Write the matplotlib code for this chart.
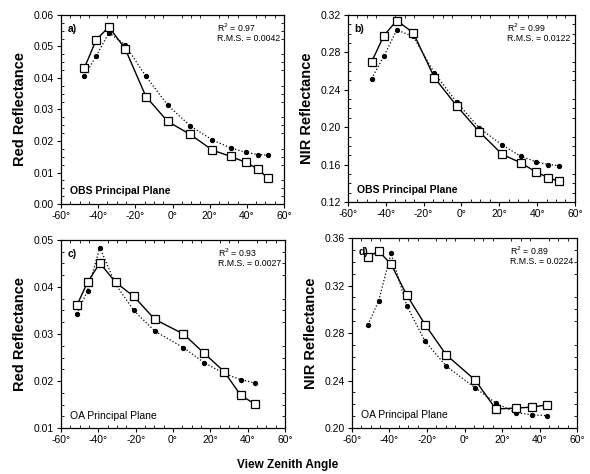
import matplotlib
matplotlib.use("Agg")
import matplotlib.pyplot as plt
import matplotlib.ticker as ticker

plt.rcParams['font.family'] = ['Liberation Sans', 'DejaVu Sans']
plt.rcParams['axes.unicode_minus'] = False

# view zenith angles (deg)
vza_obs = [-47.5, -41, -34.2, -25.5, -14.3, -2.6, 9.5, 21.5, 31.3, 39.5, 46, 51.5]
vza_oa = [-51.5, -45.8, -39.2, -30.8, -21, -9.7, 5.6, 16.7, 27.4, 36.2, 43.8]

# a) OBS red
red_obs_meas = [0.0431, 0.0522, 0.0562, 0.0493, 0.0341, 0.0262, 0.0221, 0.0171, 0.0151, 0.0132, 0.0111, 0.0081]
red_obs_mod = [0.0407, 0.0470, 0.0544, 0.0505, 0.0405, 0.0314, 0.0248, 0.0203, 0.0178, 0.0164, 0.0157, 0.0155]
# b) OBS NIR
nir_obs_meas = [0.270, 0.298, 0.314, 0.301, 0.253, 0.223, 0.195, 0.171, 0.162, 0.152, 0.146, 0.142]
nir_obs_mod = [0.252, 0.276, 0.304, 0.297, 0.258, 0.227, 0.199, 0.181, 0.169, 0.163, 0.160, 0.159]
# c) OA red
red_oa_meas = [0.0361, 0.0410, 0.0451, 0.0410, 0.0380, 0.0331, 0.0300, 0.0259, 0.0220, 0.0170, 0.0151]
red_oa_mod = [0.0343, 0.0392, 0.0484, 0.0406, 0.0350, 0.0306, 0.0271, 0.0239, 0.0216, 0.0203, 0.0196]
# d) OA NIR
nir_oa_meas = [0.344, 0.349, 0.338, 0.312, 0.287, 0.2615, 0.2405, 0.216, 0.2168, 0.2176, 0.2195]
nir_oa_mod = [0.287, 0.307, 0.347, 0.303, 0.273, 0.252, 0.234, 0.221, 0.213, 0.211, 0.2105]

panels = [
    dict(pos=[0.1034, 0.5696, 0.378, 0.3988], x=vza_obs, meas=red_obs_meas, mod=red_obs_mod,
         ylim=(0.0, 0.06), step=0.01, ylabel='Red Reflectance', tag='a)',
         r2='0.97', rms='0.0042', plane='OBS Principal Plane', bold=True),
    dict(pos=[0.5898, 0.5738, 0.3847, 0.3946], x=vza_obs, meas=nir_obs_meas, mod=nir_obs_mod,
         ylim=(0.12, 0.32), step=0.04, ylabel='NIR Reflectance', tag='b)',
         r2='0.99', rms='0.0122', plane='OBS Principal Plane', bold=True),
    dict(pos=[0.1034, 0.0970, 0.3797, 0.3967], x=vza_oa, meas=red_oa_meas, mod=red_oa_mod,
         ylim=(0.01, 0.05), step=0.01, ylabel='Red Reflectance', tag='c)',
         r2='0.93', rms='0.0027', plane='OA Principal Plane', bold=False),
    dict(pos=[0.5966, 0.0970, 0.3814, 0.4009], x=vza_oa, meas=nir_oa_meas, mod=nir_oa_mod,
         ylim=(0.20, 0.36), step=0.04, ylabel='NIR Reflectance', tag='d)',
         r2='0.89', rms='0.0224', plane='OA Principal Plane', bold=False),
]

fig = plt.figure(figsize=(5.9, 4.74), dpi=100)

for p in panels:
    ax = fig.add_axes(p['pos'])
    ax.plot(p['x'], p['mod'], ':', color='black', lw=0.9, marker='o', ms=2.8, mfc='black', mec='black')
    ax.plot(p['x'], p['meas'], '-', color='black', lw=1.0, marker='s', ms=5.5, mfc='white', mec='black', mew=0.9)

    ax.set_xlim(-60, 60)
    ax.set_ylim(*p['ylim'])
    ax.xaxis.set_major_locator(ticker.MultipleLocator(20))
    ax.xaxis.set_minor_locator(ticker.MultipleLocator(5))
    ax.yaxis.set_major_locator(ticker.MultipleLocator(p['step']))
    ax.yaxis.set_minor_locator(ticker.MultipleLocator(p['step'] / 4))
    ax.xaxis.set_major_formatter(ticker.FuncFormatter(lambda v, pos: f"{int(round(v))}°"))
    nd = 2
    ax.yaxis.set_major_formatter(ticker.FuncFormatter(lambda v, pos, nd=nd: f"{v:.{nd}f}"))
    ax.tick_params(which='major', direction='out', length=3, width=0.8, labelsize=7.5, pad=2)
    ax.tick_params(which='minor', direction='in', length=2, width=0.6, top=True, right=True)
    ax.tick_params(which='major', top=False, right=False)
    for s in ax.spines.values():
        s.set_linewidth(0.9)

    ax.set_ylabel(p['ylabel'], fontsize=10.5, fontweight='bold', labelpad=5)

    ax.text(0.03, 0.95, p['tag'], transform=ax.transAxes, fontsize=7.5, fontweight='bold',
            ha='left', va='top')
    ax.text(0.70, 0.965, 'R$^2$ = ' + p['r2'], transform=ax.transAxes, fontsize=6.3,
            ha='left', va='top')
    ax.text(0.70, 0.90, 'R.M.S. = ' + p['rms'], transform=ax.transAxes, fontsize=6.3,
            ha='left', va='top')
    ax.text(0.04, 0.04, p['plane'], transform=ax.transAxes, fontsize=7.5,
            fontweight='bold' if p['bold'] else 'normal', ha='left', va='bottom')

fig.text(0.487, 0.02, 'View Zenith Angle', fontsize=8.5, fontweight='bold', ha='center', va='center')

fig.savefig('out.png', dpi=100)
